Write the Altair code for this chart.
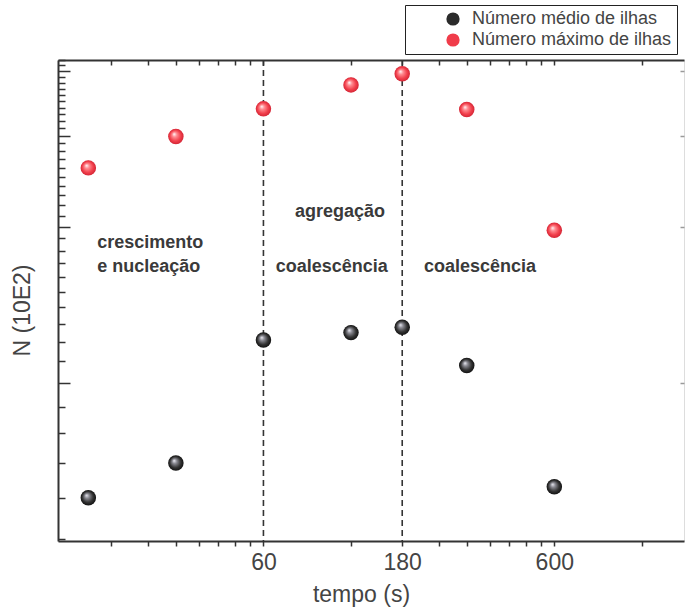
import altair as alt
import pandas as pd

# Tempo de deposição (s) e número de ilhas (em unidades de 10E2)
tempo_s = [15, 30, 60, 120, 180, 300, 600]
n_medio = [0.60, 0.70, 1.21, 1.25, 1.28, 1.08, 0.63]
n_maximo = [2.60, 2.99, 3.38, 3.76, 3.95, 3.37, 1.97]
series = ["Número médio de ilhas", "Número máximo de ilhas"]
series_colors = ["#2b2b2b", "#f03c4a"]

# Limites entre regimes de crescimento
fases_tempo = [60, 180]

# Rótulos dos regimes
notas_texto = ["crescimento", "e nucleação", "agregação", "coalescência", "coalescência"]
notas_tempo = [24.5, 24.2, 110, 103, 333]
notas_n = [1.86, 1.67, 2.14, 1.67, 1.67]

# Marcas de eixo
x_ticks = [18, 24, 30, 36, 42, 48, 54, 60, 120, 180, 240, 300, 360, 420, 480, 540, 600, 1200]
x_labels = [60, 180, 600]
y_ticks = [round(0.5 + 0.1 * i, 1) for i in range(38)]
y_major = [1, 2, 3, 4]

FONT = "Liberation Sans"
INK = "#333333"
W, H = 626, 481

df = pd.DataFrame({
    "tempo": tempo_s * 2,
    "N": n_medio + n_maximo,
    "serie": [series[0]] * len(tempo_s) + [series[1]] * len(tempo_s),
})
df_medio = pd.DataFrame({"tempo": tempo_s, "N": n_medio})
df_maximo = pd.DataFrame({"tempo": tempo_s, "N": n_maximo})
df_fases = pd.DataFrame({"tempo": fases_tempo})
df_notas = pd.DataFrame({"tempo": notas_tempo, "N": notas_n, "texto": notas_texto})

xs = alt.Scale(type="log", domain=[11.8, 1675], nice=False)
ys = alt.Scale(type="log", domain=[0.495, 4.2], nice=False, zero=False)

label_test = " || ".join(f"datum.value == {v}" for v in x_labels)

# Eixo inferior com rótulos
x_bottom = alt.Axis(
    values=x_ticks, labelExpr=f"({label_test}) ? datum.label : ''", format=".0f",
    grid=False, domainColor=INK, domainWidth=2, tickColor=INK, tickWidth=1.5,
    tickSize=5, labelPadding=5, labelFont=FONT, labelFontSize=23, labelColor="#444",
    labelFlush=False, labelOverlap=False,
    title="tempo (s)", titleFont=FONT, titleFontSize=23, titleFontWeight="normal",
    titleColor="#444", titleX=303, titleY=42, titleAlign="center", titleBaseline="top",
)
# Eixo superior: marcas voltadas para dentro
x_top = alt.Axis(
    orient="bottom", offset=-H, values=x_ticks, labels=False, title=None, grid=False,
    domainColor=INK, domainWidth=2, tickColor=INK, tickWidth=1.5, tickSize=5,
)
# Eixo esquerdo: marcas voltadas para dentro, principais mais longas
major_test = "abs(datum.value - round(datum.value)) < 0.001"
y_left = alt.Axis(
    orient="right", offset=-W, values=y_ticks, labels=False, grid=False,
    domainColor=INK, domainWidth=2, tickColor=INK, tickWidth=1.5,
    tickSize={"condition": {"test": major_test, "value": 12}, "value": 7},
    title="N (10E2)", titleFont=FONT, titleFontSize=23, titleFontWeight="normal",
    titleColor="#444", titleAngle=270, titleX=-36, titleY=250,
    titleAlign="center", titleBaseline="middle",
)
# Borda direita: apenas marcas principais discretas
y_right = alt.Axis(
    orient="left", offset=-W, values=y_major, labels=False, grid=False, domain=False,
    title=None, tickColor="#9a9a9a", tickWidth=1.5, tickSize=4,
)


def ball(c_hi, c_mid, c_base, c_edge):
    # esfera sombreada: brilho no canto superior esquerdo
    return {
        "gradient": "radial",
        "x1": 0.38, "y1": 0.34, "r1": 0,
        "x2": 0.5, "y2": 0.5, "r2": 0.5,
        "stops": [
            {"offset": 0, "color": c_hi},
            {"offset": 0.3, "color": c_mid},
            {"offset": 0.7, "color": c_base},
            {"offset": 1, "color": c_edge},
        ],
    }


legend_layer = alt.Chart(df).mark_circle(size=200, opacity=1).encode(
    x=alt.X("tempo:Q", scale=xs, axis=x_bottom),
    y=alt.Y("N:Q", scale=ys, axis=y_left),
    color=alt.Color(
        "serie:N",
        scale=alt.Scale(domain=series, range=series_colors),
        legend=alt.Legend(
            orient="none", legendX=347, legendY=-55, title=None, padding=5,
            strokeColor="#222", fillColor="white", labelFont=FONT, labelFontSize=18,
            labelColor="#444", symbolType="circle", symbolSize=175, symbolStrokeWidth=0,
            symbolOffset=34, labelOffset=10, rowPadding=3, labelLimit=400,
        ),
    ),
)

fases = alt.Chart(df_fases).mark_rule(color=INK, strokeDash=[6, 4], strokeWidth=1.6).encode(
    x=alt.X("tempo:Q", scale=xs, axis=x_top),
)

medio = alt.Chart(df_medio).mark_circle(
    size=240, opacity=1, fill=ball("#f0f0f8", "#8a8a92", "#333333", "#121212")
).encode(
    x=alt.X("tempo:Q", scale=xs, axis=None),
    y=alt.Y("N:Q", scale=ys, axis=y_right),
)

maximo = alt.Chart(df_maximo).mark_circle(
    size=240, opacity=1, fill=ball("#ffffff", "#ff8c92", "#f2404c", "#d42636")
).encode(
    x=alt.X("tempo:Q", scale=xs, axis=None),
    y=alt.Y("N:Q", scale=ys, axis=None),
)

notas = alt.Chart(df_notas).mark_text(
    font=FONT, fontSize=18, fontWeight="bold", color="#3a3a3a",
    align="center", baseline="middle",
).encode(
    x=alt.X("tempo:Q", scale=xs, axis=None),
    y=alt.Y("N:Q", scale=ys, axis=None),
    text="texto:N",
)

chart = (
    alt.layer(legend_layer, fases, medio, maximo, notas)
    .resolve_axis(x="independent", y="independent")
    .properties(
        width=W, height=H, autosize="none",
        padding={"left": 58, "top": 60, "right": 1, "bottom": 69},
    )
    .configure_view(stroke=None)
    .configure(background="white")
)

chart.save("out.html", embed_options={"renderer": "svg", "actions": False})
